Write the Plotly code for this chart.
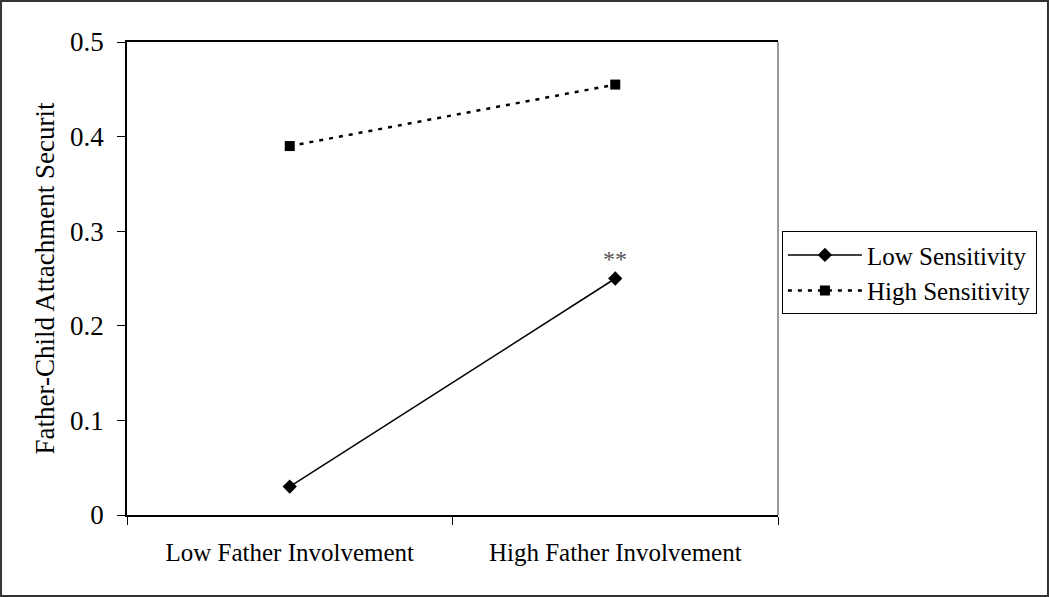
import plotly.graph_objects as go

# Data
categories = ['Low Father Involvement', 'High Father Involvement']
low_sensitivity = [0.03, 0.25]
high_sensitivity = [0.39, 0.455]
y_ticks = [0, 0.1, 0.2, 0.3, 0.4, 0.5]
y_tick_labels = ['0', '0.1', '0.2', '0.3', '0.4', '0.5']

FONT = 'Liberation Serif'

fig = go.Figure()
fig.add_trace(go.Scatter(
    x=categories, y=low_sensitivity, name='Low Sensitivity',
    mode='lines+markers',
    line=dict(color='black', width=1.5),
    marker=dict(symbol='diamond', size=11, color='black'),
))
fig.add_trace(go.Scatter(
    x=categories, y=high_sensitivity, name='High Sensitivity',
    mode='lines+markers',
    line=dict(color='black', width=2.5, dash='4px,6px'),
    marker=dict(symbol='square', size=10, color='black'),
))

# significance marker above the high-involvement point
fig.add_annotation(x=categories[1], y=low_sensitivity[1], text='**',
                   showarrow=False, yshift=20,
                   font=dict(family=FONT, size=24, color='#555555'))

fig.update_layout(
    width=1050, height=597,
    margin=dict(l=127, r=272, t=42, b=82),
    plot_bgcolor='#FFFFFF', paper_bgcolor='#FFFFFF',
    font=dict(family=FONT, size=25, color='black'),
    showlegend=True,
    legend=dict(
        x=1.006, y=0.6, xanchor='left', yanchor='top',
        bordercolor='black', borderwidth=1,
        font=dict(family=FONT, size=25, color='black'),
        itemwidth=74, tracegroupgap=4,
    ),
    shapes=[
        # right edge of the plot area
        dict(type='line', xref='paper', yref='paper', x0=1, x1=1, y0=0, y1=1,
             line=dict(color='#999999', width=2)),
        # frame around the whole picture
        dict(type='rect', xref='paper', yref='paper',
             x0=-0.1935, x1=1.4147, y0=-0.1712, y1=1.0867,
             line=dict(color='#333333', width=2)),
    ],
)
fig.update_xaxes(
    type='category', range=[-0.5, 1.5], tickson='boundaries',
    showline=True, linecolor='black', linewidth=1.5, mirror=True,
    ticks='outside', ticklen=8, tickcolor='black',
    showgrid=False, zeroline=False, ticklabelstandoff=14,
    tickfont=dict(family=FONT, size=25),
)
fig.update_yaxes(
    range=[0, 0.5], tickvals=y_ticks, ticktext=y_tick_labels,
    showline=True, linecolor='black', linewidth=1.5,
    ticks='outside', ticklen=8, tickcolor='black',
    showgrid=False, zeroline=False, ticklabelstandoff=8,
    tickfont=dict(family=FONT, size=27),
    title=dict(text='Father-Child Attachment Securit', standoff=8,
               font=dict(family=FONT, size=27)),
)

fig.write_html('out.html', config={'displayModeBar': False},
               post_script="document.body.style.margin='0';")
